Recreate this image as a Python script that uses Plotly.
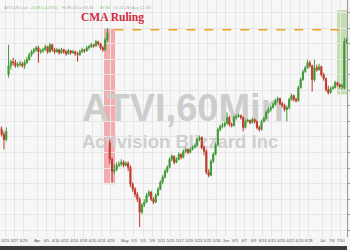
import plotly.graph_objects as go

# ---------------- data (ATVI, half-day bars, 22 Mar - 11 Jul) ----------------
opens = [80.76, 80.6, 80.2, 79.8, 85.0, 85.72, 86.04, 85.96, 85.72, 85.8,
         85.88, 85.72, 85.96, 86.2, 86.6, 86.84, 87.0, 87.16, 86.84, 86.92,
         87.0, 87.24, 86.84, 87.4, 87.0, 86.84, 87.0, 86.76, 87.0, 86.84,
         86.68, 86.92, 86.76, 86.84, 86.68, 86.6, 86.84, 87.0, 86.92, 87.16,
         87.24, 87.4, 87.32, 87.64, 87.48, 87.16, 87.0, 87.8, 79.56, 78.2,
         77.24, 77.4, 77.72, 77.8, 77.96, 77.72, 77.88, 77.56, 76.2, 75.8,
         75.4, 75.0, 73.96, 74.52, 74.76, 75.32, 75.56, 75.0, 74.76, 75.32,
         75.8, 76.36, 76.76, 77.24, 77.56, 78.2, 78.44, 77.96, 78.2, 78.6,
         78.36, 78.84, 79.0, 78.76, 79.0, 79.16, 79.32, 79.8, 79.96, 79.16,
         78.84, 77.16, 76.92, 78.04, 78.6, 79.4, 80.6, 80.84, 80.92, 81.08,
         81.56, 81.0, 80.92, 81.56, 81.64, 81.72, 81.56, 80.76, 81.24, 81.32,
         81.16, 81.4, 81.24, 80.76, 80.6, 81.24, 81.48, 81.96, 82.2, 82.36,
         82.6, 82.92, 83.08, 82.68, 82.52, 82.2, 82.36, 83.0, 83.32, 83.0,
         82.92, 83.96, 84.6, 85.24, 85.56, 85.96, 85.72, 84.6, 85.56, 85.4,
         85.64, 85.0, 84.68, 83.8, 83.56, 83.88, 83.96, 84.36, 84.2, 84.04,
         83.96, 87.64]
highs = [81.0, 80.84, 80.44, 80.76, 87.4, 86.2, 86.36, 86.2, 86.04, 86.12,
         86.04, 86.2, 86.44, 86.76, 87.0, 87.16, 87.32, 87.32, 87.08, 87.16,
         87.4, 87.32, 87.56, 87.48, 87.16, 87.16, 87.08, 87.16, 87.08, 87.0,
         87.08, 87.0, 87.0, 86.92, 86.84, 87.0, 87.16, 87.08, 87.32, 87.4,
         87.56, 87.48, 87.8, 87.72, 87.56, 87.32, 87.96, 88.76, 79.8, 78.36,
         77.8, 77.96, 78.04, 78.2, 78.12, 78.04, 78.04, 77.72, 76.36, 75.96,
         75.56, 75.16, 74.68, 75.0, 75.48, 75.72, 75.64, 75.16, 75.48, 75.96,
         76.52, 76.92, 77.4, 77.72, 78.36, 78.6, 78.52, 78.36, 78.76, 78.68,
         79.0, 79.16, 79.08, 79.16, 79.32, 79.48, 79.96, 80.12, 80.04, 79.32,
         79.0, 77.4, 78.2, 78.76, 79.56, 80.76, 81.0, 81.16, 81.24, 81.96,
         81.72, 81.16, 81.72, 81.8, 81.88, 81.8, 81.64, 81.4, 81.48, 81.4,
         81.56, 81.48, 81.32, 80.92, 81.4, 81.64, 82.12, 82.36, 82.52, 82.76,
         83.08, 83.24, 83.16, 82.84, 82.68, 82.52, 83.16, 83.48, 83.4, 83.16,
         84.12, 84.76, 85.4, 85.72, 86.2, 86.12, 85.8, 86.2, 85.8, 85.88,
         85.72, 85.16, 84.76, 84.12, 84.04, 84.12, 84.52, 84.44, 84.28, 84.28,
         87.96, 87.96]
lows = [80.36, 80.04, 79.0, 79.64, 84.76, 85.4, 85.72, 85.56, 85.56, 85.64,
        85.56, 85.48, 85.88, 86.12, 86.44, 86.68, 86.84, 85.96, 86.68, 86.76,
        86.92, 86.68, 86.76, 86.84, 86.68, 86.76, 86.6, 86.68, 86.68, 86.52,
        86.6, 86.6, 86.68, 86.52, 86.04, 86.52, 86.76, 86.76, 86.84, 87.0,
        87.16, 87.16, 87.24, 87.32, 87.0, 86.84, 86.92, 87.64, 77.8, 76.36,
        77.0, 77.24, 77.56, 77.64, 77.56, 77.64, 77.24, 75.96, 75.56, 75.16,
        74.76, 72.76, 73.8, 74.36, 74.68, 75.16, 74.84, 74.6, 74.68, 75.24,
        75.72, 76.2, 76.68, 77.08, 77.48, 78.04, 77.8, 77.88, 78.12, 78.2,
        78.28, 78.68, 78.6, 78.68, 78.92, 79.08, 79.24, 79.64, 79.0, 78.52,
        77.0, 76.76, 76.84, 77.88, 78.52, 79.24, 80.44, 80.68, 80.76, 81.0,
        80.84, 80.76, 80.84, 81.4, 81.56, 81.4, 80.44, 80.68, 81.16, 81.0,
        81.08, 81.08, 80.6, 80.44, 80.52, 81.16, 81.4, 81.88, 82.04, 82.28,
        82.52, 82.76, 82.52, 82.36, 82.04, 81.24, 82.2, 82.92, 82.84, 82.76,
        82.84, 83.88, 84.52, 85.16, 85.48, 85.56, 83.64, 84.44, 85.24, 85.32,
        84.84, 84.52, 83.64, 83.4, 83.48, 83.8, 83.88, 84.04, 83.88, 83.8,
        83.8, 87.48]
closes = [80.6, 80.2, 79.8, 80.44, 85.72, 86.04, 85.96, 85.72, 85.8, 85.88,
          85.72, 85.96, 86.2, 86.6, 86.84, 87.0, 87.16, 86.84, 86.92, 87.0,
          87.24, 86.84, 87.4, 87.0, 86.84, 87.0, 86.76, 87.0, 86.84, 86.68,
          86.92, 86.76, 86.84, 86.68, 86.6, 86.84, 87.0, 86.92, 87.16, 87.24,
          87.4, 87.32, 87.64, 87.48, 87.16, 87.0, 87.8, 88.36, 78.2, 77.24,
          77.4, 77.72, 77.8, 77.96, 77.72, 77.88, 77.56, 76.2, 75.8, 75.4,
          75.0, 73.96, 74.52, 74.76, 75.32, 75.56, 75.0, 74.76, 75.32, 75.8,
          76.36, 76.76, 77.24, 77.56, 78.2, 78.44, 77.96, 78.2, 78.6, 78.36,
          78.84, 79.0, 78.76, 79.0, 79.16, 79.32, 79.8, 79.96, 79.16, 78.84,
          77.16, 76.92, 78.04, 78.6, 79.4, 80.6, 80.84, 80.92, 81.08, 81.56,
          81.0, 80.92, 81.56, 81.64, 81.72, 81.56, 80.76, 81.24, 81.32, 81.16,
          81.4, 81.24, 80.76, 80.6, 81.24, 81.48, 81.96, 82.2, 82.36, 82.6,
          82.92, 83.08, 82.68, 82.52, 82.2, 82.36, 83.0, 83.32, 83.0, 82.92,
          83.96, 84.6, 85.24, 85.56, 85.96, 85.72, 84.6, 85.56, 85.4, 85.64,
          85.0, 84.68, 83.8, 83.56, 83.88, 83.96, 84.36, 84.2, 84.04, 84.12,
          87.64, 87.8]

# x-axis labels: trading-day index -> label (2 bars per day)
tick_day_index = [1, 3, 5, 8, 10, 12, 14, 16, 18, 20, 22, 24, 27, 29, 31, 33,
                  35, 37, 39, 41, 43, 45, 47, 49, 51, 53, 55, 57, 59, 61, 63,
                  65, 67, 70, 72, 74]
tick_labels = ["3/23", "3/27", "3/29", "Apr", "4/5", "4/10", "4/12", "4/14",
               "4/18", "4/20", "4/24", "4/26", "May", "5/3", "5/5", "5/9",
               "5/11", "5/15", "5/17", "5/19", "5/23", "5/25", "5/30", "Jun",
               "6/5", "6/7", "6/9", "6/13", "6/15", "6/20", "6/22", "6/26",
               "6/28", "Jul", "7/6", "7/10"]

deal_level = 88.6          # orange dashed reference level
cma_window = (45.5, 50.3, 76.2, 88.76)     # bar range / price range of CMA ruling box
ftc_window = (146.8, 152.0, 83.4, 90.2)    # bar range / price range of green box

bars_per_day = 2
x_idx = list(range(len(closes)))
tickvals = [d * bars_per_day + 0.5 for d in tick_day_index]

PLOT_DOMAIN = [0.052, 1.0]   # leaves a strip at the bottom for labels and footer band
FOOTER_DOMAIN = [0.0, 0.016]

fig = go.Figure()

# watermark on the base subplot (drawn beneath the overlaid candle subplot)
fig.add_trace(go.Scatter(
    x=[0.236], y=[0.528], mode="text", text=["ATVI,60Min"],
    textposition="middle right", hoverinfo="skip", showlegend=False,
    textfont=dict(family="Liberation Sans Narrow, Arial Narrow, Liberation Sans",
                  size=38, color="#cdcdcd", weight="bold"),
    xaxis="x", yaxis="y"))
fig.add_trace(go.Scatter(
    x=[0.236], y=[0.394], mode="text", text=["Activision Blizzard Inc"],
    textposition="middle right", hoverinfo="skip", showlegend=False,
    textfont=dict(family="Liberation Sans Narrow, Arial Narrow, Liberation Sans",
                  size=18.5, color="#cfcfcf", weight="bold"),
    xaxis="x", yaxis="y"))

fig.add_trace(go.Candlestick(
    x=x_idx, open=opens, high=highs, low=lows, close=closes,
    increasing=dict(line=dict(color="#3f9a35", width=1), fillcolor="#3f9a35"),
    decreasing=dict(line=dict(color="#c0392b", width=1), fillcolor="#c0392b"),
    whiskerwidth=0, showlegend=False, hoverinfo="skip",
    xaxis="x2", yaxis="y2"))

# dark footer strip at the very bottom
fig.add_trace(go.Bar(x=[0.5], y=[1], width=[1.2], marker=dict(color="#3b3b3b", line=dict(width=0)),
                     hoverinfo="skip", showlegend=False, xaxis="x3", yaxis="y3"))

shapes = [
    dict(type="rect", xref="x2", yref="y2", x0=cma_window[0], x1=cma_window[1],
         y0=cma_window[2], y1=cma_window[3], fillcolor="rgba(240,110,115,0.55)",
         line=dict(width=0), layer="below"),
    dict(type="rect", xref="x2", yref="y2", x0=ftc_window[0], x1=ftc_window[1],
         y0=ftc_window[2], y1=ftc_window[3], fillcolor="rgba(130,185,80,0.42)",
         line=dict(width=0), layer="below"),
    dict(type="line", xref="x2", yref="y2", x0=cma_window[1] - 0.3, x1=152,
         y0=deal_level, y1=deal_level, line=dict(color="#f0a020", width=1.5, dash="dash"),
         layer="above"),
]

annotations = [
    dict(text="<b>CMA Ruling</b>", xref="paper", yref="paper", x=0.323, y=0.928,
         xanchor="center", yanchor="middle", showarrow=False,
         font=dict(family="Liberation Serif, DejaVu Serif", size=11.5, color="#d0283c")),
]
header = [("ATVI.US Last", 0.006, "#a8a8a8"), ("+3.68 (+4.37%)", 0.081, "#7cc46a"),
          ("Hi 88.00 Lo 83.80", 0.173, "#a8a8a8"), ("87.80", 0.282, "#7cc46a"),
          ("Vol 41.2M Avg 12.5M", 0.32, "#b0b0b0")]
for txt, xp, col in header:
    annotations.append(dict(text=txt, xref="paper", yref="paper", x=xp, y=0.99,
                            xanchor="left", showarrow=False,
                            font=dict(family="Liberation Sans", size=4, color=col)))

fig.update_layout(
    width=350, height=250, template="none",
    margin=dict(l=0, r=3, t=0, b=0),
    paper_bgcolor="#f4f4f4", plot_bgcolor="#f7f7f7",
    showlegend=False, shapes=shapes, annotations=annotations,
    xaxis=dict(range=[0, 1], visible=False, fixedrange=True),
    yaxis=dict(range=[0, 1], visible=False, fixedrange=True, domain=PLOT_DOMAIN),
    xaxis2=dict(overlaying="x", anchor="y2", range=[0.283, 151.15],
                rangeslider=dict(visible=False), tickvals=tickvals,
                ticktext=tick_labels, tickangle=0,
                tickfont=dict(size=4, color="#555555", family="Liberation Sans"),
                showgrid=True, gridcolor="#e6e6e6", gridwidth=1,
                ticks="", showline=False, automargin=False, zeroline=False),
    yaxis2=dict(overlaying="y", anchor="x2", side="right", domain=PLOT_DOMAIN,
                range=[71.96, 91.0], dtick=1.25, tick0=0,
                showgrid=True, gridcolor="#e6e6e6", gridwidth=1,
                showline=True, linecolor="#9a9a9a", linewidth=1,
                ticks="outside", ticklen=3, tickcolor="#9a9a9a",
                showticklabels=False, automargin=False, zeroline=False),
    xaxis3=dict(anchor="y3", domain=[0, 1], range=[0, 1], visible=False, fixedrange=True),
    yaxis3=dict(anchor="x3", domain=FOOTER_DOMAIN, range=[0, 1], visible=False,
                fixedrange=True),
)

fig.write_html("out.html")
